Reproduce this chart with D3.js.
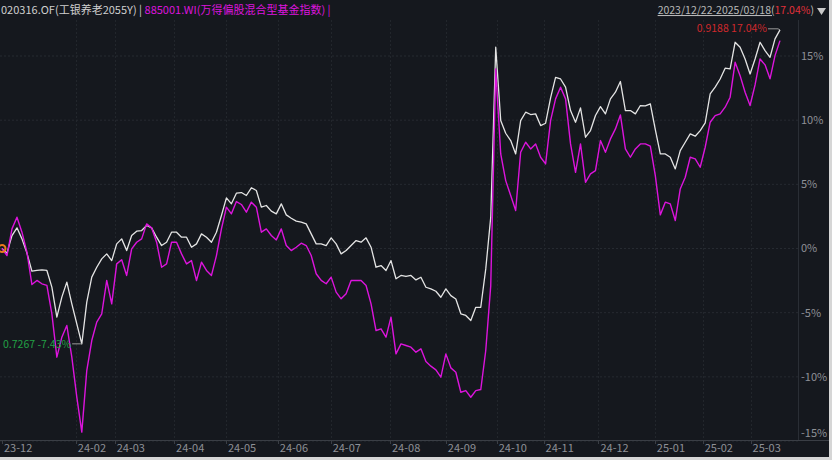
<!DOCTYPE html>
<html><head><meta charset="utf-8">
<script src="https://cdn.jsdelivr.net/npm/d3@7/dist/d3.min.js"></script>
<style>
html,body{margin:0;padding:0;background:#15181e;}
svg{display:block;}
text{font-family:"Noto Sans CJK SC","Noto Sans",sans-serif;}
</style></head>
<body>
<svg id="c" width="832" height="460"></svg>
<script>
// ---- data ----
const fundName = "020316.OF(工银养老2055Y)";
const indexName = "885001.WI(万得偏股混合型基金指数)";
const periodText = "2023/12/22-2025/03/18(";
const periodReturn = "17.04%";
const tickLabels = ["23-12","24-02","24-03","24-04","24-05","24-06","24-07","24-08","24-09","24-10","24-11","24-12","25-01","25-02","25-03"];
const tickIdx = [0,14.8,22.6,34.5,44.9,55.3,65.9,77.8,89,99.2,108.6,119.6,130.9,140.5,150.1];
const yTicks = [-15,-10,-5,0,5,10,15];
const fundSeries = [
0,-0.36,1.01,1.61,0.75,-0.36,-1.77,-1.71,-1.66,-1.71,-3.01,-5.35,-3.79,-2.62,-4.31,-5.87,-7.43,-4.18,-2.23,-1.46,-0.81,-0.42,-0.94,0.36,0.75,-0.16,1.01,1.35,1.40,1.79,1.61,0.88,0.23,0.49,1.27,1.27,0.88,0.88,0.10,0.36,1.14,0.88,0.49,
1.27,2.57,3.95,3.48,4.31,4.36,4.13,4.73,4.52,3.22,3.35,2.91,2.70,3.48,2.62,2.36,2.13,2.05,1.92,1.14,0.36,0.36,0.23,0.83,0.36,-0.42,-0.16,0.23,0.62,0.49,0.83,0.10,-1.46,-1.33,-1.71,-0.94,-2.36,-2.10,-2.18,-2.10,
-2.45,-2.24,-3.02,-3.15,-3.33,-3.80,-3.15,-3.67,-3.93,-5.09,-5.22,-5.61,-4.58,-4.58,-1.59,2.44,15.68,9.97,8.98,8.41,7.37,9.97,10.62,10.44,10.49,9.58,9.76,11.73,13.34,13.21,12.57,10.75,9.84,10.96,8.67,9.19,10.36,11.06,10.49,11.66,
12.18,13.01,10.75,10.75,10.49,11.14,11.11,11.27,9.27,7.37,7.37,7.11,6.20,7.63,8.28,8.93,8.75,9.19,9.79,12.05,12.57,13.21,14.05,13.99,16.07,15.68,14.77,13.60,14.77,16.07,15.42,14.90,16.33,17.04];
const indexSeries = [
0,-0.55,1.53,2.44,1.27,-0.29,-2.81,-2.49,-2.75,-2.88,-5.09,-8.47,-6.91,-6.00,-8.47,-11.58,-14.31,-9.51,-7.17,-5.74,-5.09,-2.49,-4.31,-1.20,-0.88,-2.10,-0.03,0.49,0.75,1.92,1.61,0.49,-1.46,-1.20,0.49,0.49,-0.42,-1.20,-0.94,-2.49,-1.07,-1.71,-2.10,
-0.55,1.53,3.22,2.70,3.66,3.43,2.83,3.61,3.22,1.27,1.53,1.01,0.67,1.53,0.23,-0.16,0.10,0.41,0.23,-0.55,-1.97,-2.49,-2.75,-2.23,-3.40,-3.92,-3.53,-2.49,-2.49,-2.49,-2.88,-4.31,-6.39,-6.26,-6.91,-5.35,-8.21,-7.43,-7.56,-7.69,
-8.08,-7.82,-8.81,-9.17,-9.46,-10.03,-8.21,-9.30,-9.64,-11.20,-11.07,-11.59,-11.07,-10.99,-7.95,-2.89,13.99,7.37,5.29,4.13,2.96,7.50,8.28,7.76,8.15,7.11,6.59,9.97,11.66,12.57,11.66,8.15,5.94,8.15,5.16,5.81,6.07,8.41,7.50,8.54,
9.32,10.41,7.76,7.11,7.76,8.15,8.15,7.97,5.68,2.62,3.61,3.48,2.18,4.64,5.55,7.11,6.98,6.33,7.89,9.84,10.36,10.49,11.01,11.79,14.51,13.47,12.18,11.14,12.75,14.77,14.31,13.22,15.03,16.20];
const minNav = "0.7267", minPct = "-7.43%";
const endNav = "0.9188", endPct = "17.04%";

// ---- drawing ----
const svg = d3.select("#c");
const W = 832, H = 460;
const plotRight = 798, axisY = 440;
svg.append("rect").attr("width",W).attr("height",H).attr("fill","#15181e");

const x = d3.scaleLinear().domain([0, fundSeries.length-1]).range([2, 780]);
const y = d3.scaleLinear().domain([-15, 15]).range([441, 56]);

// grid
const g = svg.append("g");
g.selectAll("line.h").data(yTicks).join("line")
  .attr("x1",0).attr("x2",plotRight).attr("y1",d=>y(d)).attr("y2",d=>y(d))
  .attr("stroke","#262a31").attr("stroke-width",1).attr("stroke-dasharray","2,2");
g.selectAll("line.v").data(tickIdx.slice(1)).join("line")
  .attr("x1",d=>Math.round(x(d))+0.5).attr("x2",d=>Math.round(x(d))+0.5).attr("y1",20).attr("y2",axisY)
  .attr("stroke","#22262c").attr("stroke-width",1).attr("stroke-dasharray","2,2");

// right axis separator and bottom axis line
svg.append("line").attr("x1",plotRight+0.5).attr("x2",plotRight+0.5).attr("y1",20).attr("y2",axisY)
  .attr("stroke","#2a2e35");
svg.append("line").attr("x1",0).attr("x2",W).attr("y1",axisY+0.5).attr("y2",axisY+0.5)
  .attr("stroke","#3a3e45");

// y labels
svg.selectAll("text.yl").data(yTicks).join("text")
  .attr("x",801).attr("y",d=>Math.min(y(d),433)).attr("dy","0.35em")
  .attr("fill","#8e9096").attr("font-size","11px")
  .text(d=>d+"%");

// x ticks & labels
svg.selectAll("line.xt").data(tickIdx).join("line")
  .attr("x1",d=>Math.round(x(d))+0.5).attr("x2",d=>Math.round(x(d))+0.5)
  .attr("y1",axisY).attr("y2",axisY+4).attr("stroke","#3a3e45");
svg.selectAll("text.xl").data(tickLabels).join("text")
  .attr("x",(d,i)=>x(tickIdx[i])+2).attr("y",452)
  .attr("fill","#8e9096").attr("font-size","11px").text(d=>d);

// lines
const line = d3.line().x((d,i)=>x(i)).y(d=>y(d));
svg.append("path").datum(fundSeries).attr("d",line)
  .attr("fill","none").attr("stroke","#e4e4e4").attr("stroke-width",1.3).attr("stroke-linejoin","round");
svg.append("path").datum(indexSeries).attr("d",line)
  .attr("fill","none").attr("stroke","#dc14dc").attr("stroke-width",1.4).attr("stroke-linejoin","round");

// start marker
svg.append("circle").attr("cx",x(0)).attr("cy",y(0)).attr("r",3.5)
  .attr("fill","none").attr("stroke","#ec7a1c").attr("stroke-width",2);

// min annotation
const minI = d3.minIndex(fundSeries);
const mx = x(minI), my = y(fundSeries[minI]);
const mt = svg.append("text").attr("x",3).attr("y",my).attr("dy","0.35em")
  .attr("fill","#22a045").attr("font-size","10.5px").text(minNav+" "+minPct);
const mtEnd = 3 + mt.node().getComputedTextLength();
svg.append("line").attr("x1",mtEnd+1).attr("x2",mx).attr("y1",my).attr("y2",my).attr("stroke","#9a9a9a");

// end annotation
const lastI = fundSeries.length-1;
const ex = x(lastI), ey = y(fundSeries[lastI]);
svg.append("path").attr("d",`M${ex-12},${ey-1}H${ex-2}L${ex},${ey}`).attr("fill","none").attr("stroke","#9a9a9a");
svg.append("text").attr("x",ex-13).attr("y",ey-1).attr("dy","0.35em").attr("text-anchor","end")
  .attr("fill","#d0282c").attr("font-size","10.5px").text(endNav+" "+endPct);

// header
const h = svg.append("text").attr("x",1).attr("y",14).attr("font-size","11px");
h.append("tspan").attr("fill","#cfcfcf").text(fundName+" | ");
h.append("tspan").attr("fill","#dc14dc").text(indexName+" |");

const r = svg.append("text").attr("x",814).attr("y",14).attr("font-size","10.5px").attr("text-anchor","end");
r.append("tspan").attr("fill","#b8b8b8").attr("text-decoration","underline").text(periodText);
r.append("tspan").attr("fill","#e0303a").text(periodReturn);
r.append("tspan").attr("fill","#b8b8b8").text(")");
svg.append("path").attr("d","M817,8H826L821.5,15Z").attr("fill","#c8c8c8");

// light frame at right/bottom edge
svg.append("rect").attr("x",829).attr("y",0).attr("width",3).attr("height",H).attr("fill","#d6d6d6");
svg.append("rect").attr("x",0).attr("y",457).attr("width",W).attr("height",3).attr("fill","#d6d6d6");
</script>
</body></html>
